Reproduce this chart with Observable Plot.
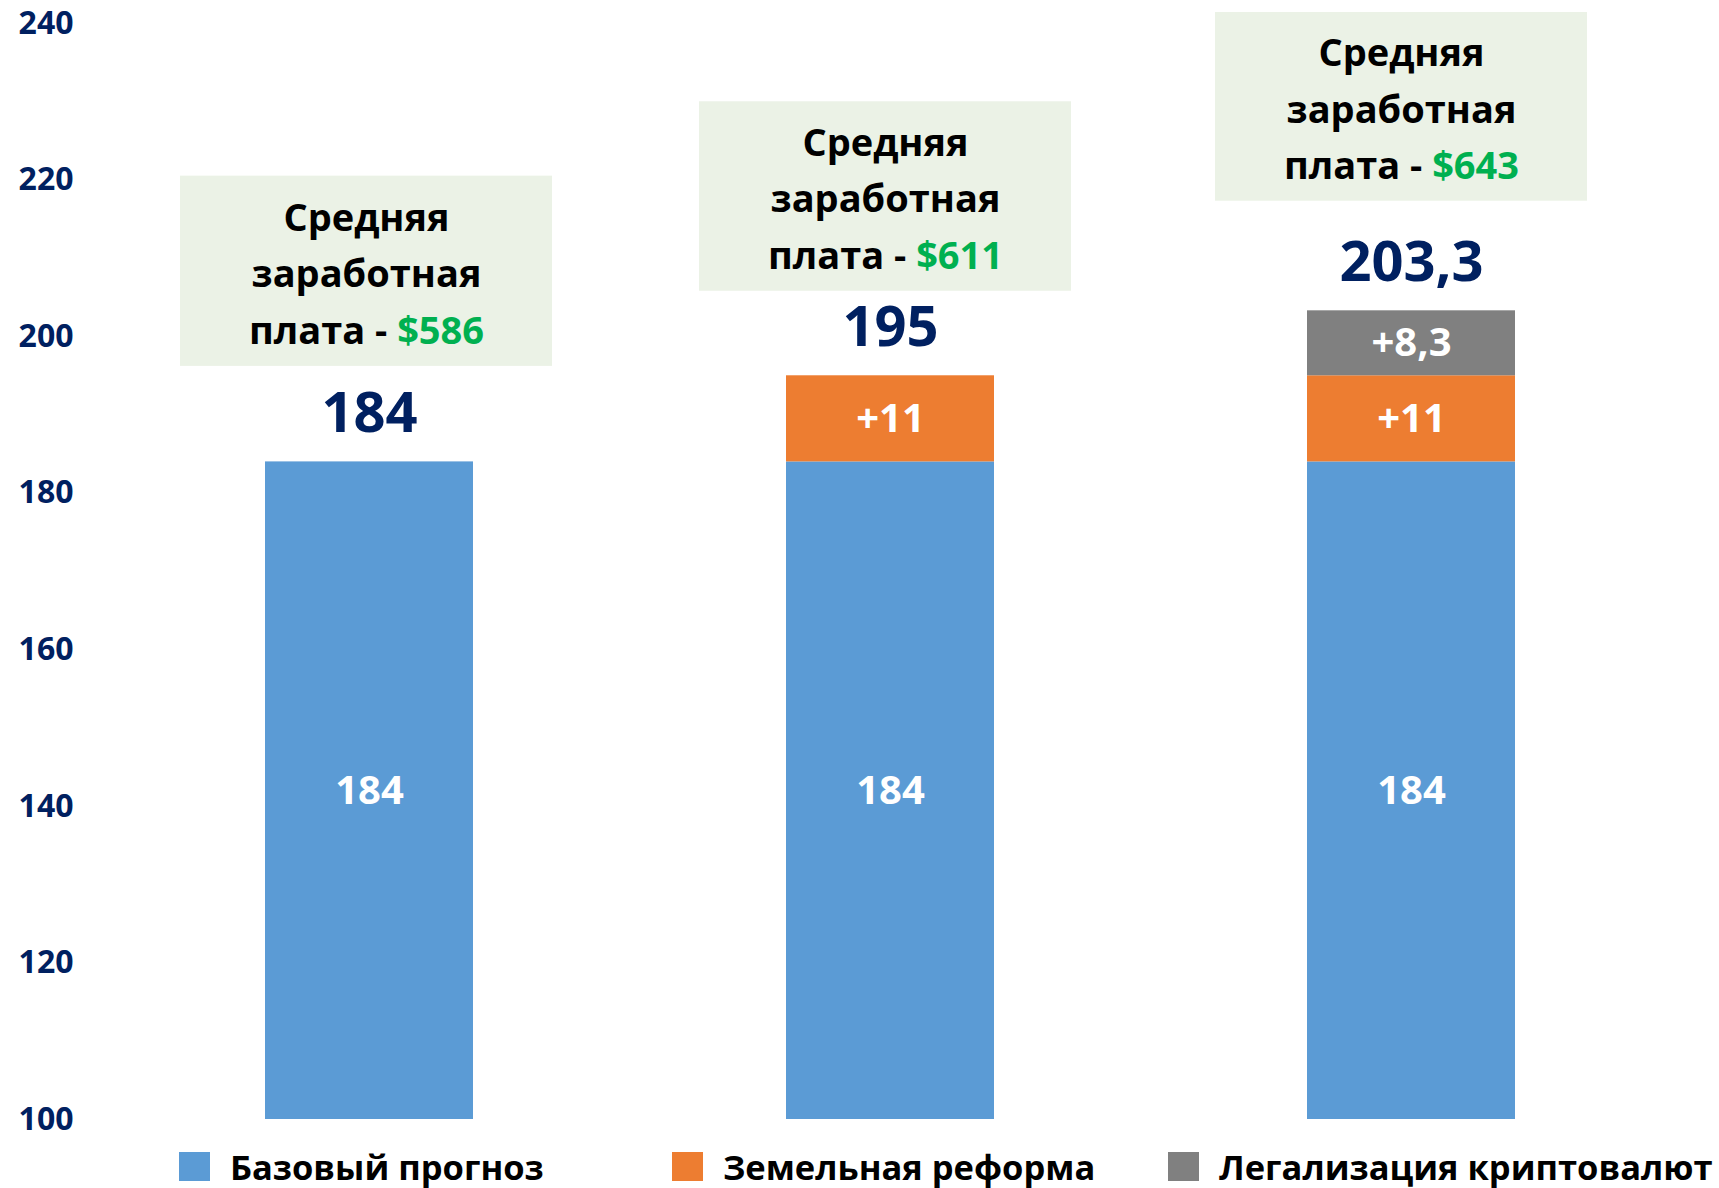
<!DOCTYPE html>
<html><head><meta charset="utf-8">
<script src="https://cdn.jsdelivr.net/npm/d3@7"></script>
<script src="https://cdn.jsdelivr.net/npm/@observablehq/plot@0.6"></script>
<style>
body{margin:0;background:#fff;font-family:"Open Sans",sans-serif;}
#wrap{position:relative;width:1719px;height:1188px;overflow:hidden;}
#legend{position:absolute;top:1146px;left:0;width:1719px;height:40px;}
.item{position:absolute;top:0;height:40px;display:flex;align-items:center;font-weight:700;font-size:34.5px;color:#000;white-space:nowrap;}
.sw{width:31px;height:29px;margin-right:20px;flex:none;}
</style></head><body>
<div id="wrap"><div id="chart"></div><div id="legend"></div></div>
<script>
// ---- data ----
const scenarios = ["Сценарий 1", "Сценарий 2", "Сценарий 3"];
const seriesNames = ["Базовый прогноз", "Земельная реформа", "Легализация криптовалют"];
const baseValues = [184, 184, 184];
const landValues = [0, 11, 11];
const cryptoValues = [0, 0, 8.3];
const totalValues = [184, 195, 203.3];
const wages = [586, 611, 643];
const yTicks = [100, 120, 140, 160, 180, 200, 220, 240];
const seriesColors = ["#5B9BD5", "#ED7D31", "#808080"];

// ---- derived ----
const yDomain = [100, 240];
const fmt = v => String(v).replace(".", ",");
const seriesValues = [baseValues, landValues, cryptoValues];
const rows = [];
scenarios.forEach((s, i) => {
  let cum = 0;
  seriesValues.forEach((vals, j) => {
    const v = vals[i];
    if (v > 0) {
      rows.push({scenario: s, series: seriesNames[j], y1: cum, y2: cum + v,
        ym: (Math.max(cum, yDomain[0]) + cum + v) / 2,
        label: j === 0 ? fmt(v) : "+" + fmt(v)});
    }
    cum += v;
  });
});
const totals = scenarios.map((s, i) => ({scenario: s, total: totalValues[i], label: fmt(totalValues[i])}));

// annotation box placement (in y units) and horizontal nudge
const boxPlacement = [
  {top: 220.5, bottom: 196.2, dx: -3},
  {top: 230.0, bottom: 205.8, dx: -5},
  {top: 241.4, bottom: 217.3, dx: -10}
];
const boxMarks = scenarios.flatMap((s, i) => {
  const b = boxPlacement[i];
  const d = [{scenario: s, y1: b.bottom, y2: b.top, ym: (b.top + b.bottom) / 2 + 0.3,
    text: "Средняя\nзаработная\nплата - $" + wages[i]}];
  return [
    Plot.barY(d, {x: "scenario", y1: "y1", y2: "y2", fill: "#EBF2E6", insetLeft: -82, insetRight: -82, dx: b.dx}),
    Plot.text(d, {x: "scenario", y: "ym", text: "text", dx: b.dx, fontSize: 38, fontWeight: "bold", fill: "#000", lineHeight: 1.487, lineAnchor: "middle"})
  ];
});

const chart = Plot.plot({
  width: 1719, height: 1142,
  marginLeft: 110, marginRight: 49, marginTop: 23, marginBottom: 23,
  style: {fontFamily: "'Open Sans', sans-serif", background: "#fff"},
  x: {domain: scenarios, paddingInner: 0.6, paddingOuter: 0.295, axis: null},
  y: {domain: yDomain, axis: null},
  color: {domain: seriesNames, range: seriesColors},
  marks: [
    Plot.axisY(yTicks, {tickSize: 0, tickPadding: 37, fontSize: 32, fontWeight: "bold", fill: "#002060", label: null}),
    Plot.barY(rows, {x: "scenario", y1: "y1", y2: "y2", fill: "series", clip: true}),
    Plot.text(rows, {x: "scenario", y: "ym", text: "label", fill: "#fff", fontSize: 40, fontWeight: "bold"}),
    Plot.text(totals, {x: "scenario", y: "total", text: "label", dy: -48, fill: "#002060", fontSize: 56, fontWeight: "bold"}),
    ...boxMarks
  ]
});
document.getElementById("chart").appendChild(chart);

// colour the wage amount green
chart.querySelectorAll("tspan").forEach(t => {
  const s = t.textContent, k = s.indexOf("$");
  if (k >= 0) {
    t.textContent = s.slice(0, k);
    const g = document.createElementNS("http://www.w3.org/2000/svg", "tspan");
    g.setAttribute("fill", "#00B050");
    g.textContent = s.slice(k);
    t.appendChild(g);
  }
});

// legend
const legendLeft = [179, 672, 1168];
const legend = document.getElementById("legend");
seriesNames.forEach((name, i) => {
  const it = document.createElement("div");
  it.className = "item";
  it.style.left = legendLeft[i] + "px";
  it.innerHTML = `<span class="sw" style="background:${seriesColors[i]}"></span><span>${name}</span>`;
  legend.appendChild(it);
});
</script>
</body></html>
